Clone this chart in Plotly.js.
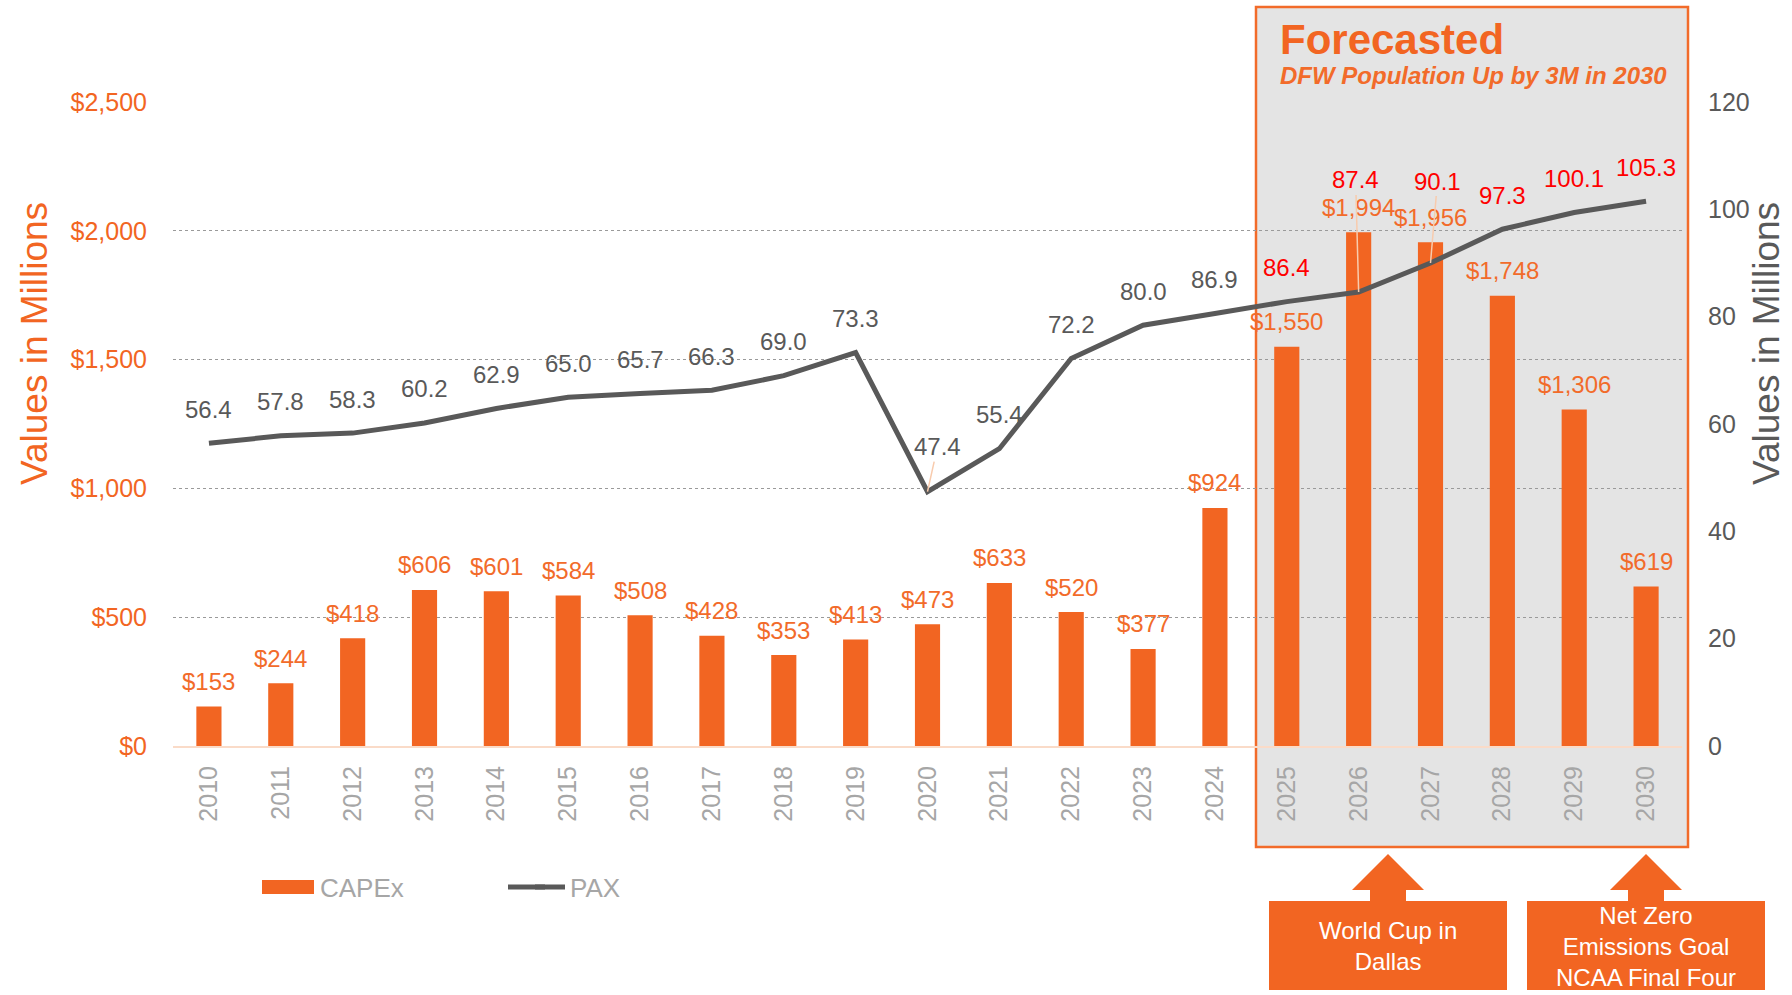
<!DOCTYPE html>
<html><head><meta charset="utf-8">
<script src="https://cdn.plot.ly/plotly-3.0.1.min.js"></script>
<style>html,body{margin:0;padding:0;background:#fff}#chart{width:1792px;height:995px}</style>
</head><body><div id="chart"></div>
<script>
// ---- data ----
const years = ['2010','2011','2012','2013','2014','2015','2016','2017','2018','2019','2020','2021','2022','2023','2024','2025','2026','2027','2028','2029','2030'];
const capex = [153,244,418,606,601,584,508,428,353,413,473,633,520,377,924,1550,1994,1956,1748,1306,619];
const paxLine = [56.4,57.8,58.3,60.2,62.9,65.0,65.7,66.3,69.0,73.3,47.4,55.4,72.2,78.4,80.6,82.8,84.6,90.0,96.3,99.4,101.5];
const paxLabels = ['56.4','57.8','58.3','60.2','62.9','65.0','65.7','66.3','69.0','73.3','47.4','55.4','72.2','80.0','86.9','86.4','87.4','90.1','97.3','100.1','105.3'];
const forecastYears = ['2025','2026','2027','2028','2029','2030'];
const leftTitle = 'Values in Millions';
const rightTitle = 'Values in Millions';
const forecastTitle = 'Forecasted';
const forecastSub = 'DFW Population Up by 3M in 2030';
const callout1 = 'World Cup in<br>Dallas';
const callout2 = 'Net Zero<br>Emissions Goal<br>NCAA Final Four';

// ---- styling ----
const FONT = 'Liberation Sans, Arial, sans-serif';
const ORANGE = '#F26522';
const ORANGE_TXT = '#F26B2A';
const GRAY = '#595959';
const LIGHTGRAY = '#A6A6A6';
const PL = 173, PR = 1682, PT = 102, PB = 746;
const px = x => (x - PL) / (PR - PL);
const py = y => (PB - y) / (PB - PT);

// label leader-line offsets (pixels) for a few labels
const leader = {'2020': [10, -45], '2026': [-3, -112], '2027': [7, -82]};

const annotations = [];
// CAPEx labels
years.forEach((yr, i) => {
  annotations.push({
    x: i, y: capex[i], xref: 'x', yref: 'y', showarrow: false, xanchor: 'center', yanchor: 'middle',
    text: '$' + capex[i].toLocaleString('en-US'), yshift: 25,
    font: {family: FONT, size: 24, color: ORANGE_TXT}
  });
});
// PAX labels
years.forEach((yr, i) => {
  const isF = forecastYears.includes(yr);
  const a = {
    x: i, y: paxLine[i], xref: 'x', yref: 'y2',
    text: paxLabels[i], xanchor: 'center', yanchor: 'middle',
    font: {family: FONT, size: 24, color: isF ? '#FF0000' : GRAY}
  };
  if (leader[yr]) {
    a.showarrow = true; a.arrowhead = 0; a.arrowwidth = 1.5; a.arrowcolor = '#F8CBAD';
    a.ax = leader[yr][0]; a.ay = leader[yr][1]; a.standoff = 0;
  } else {
    a.showarrow = false; a.yshift = 34;
  }
  annotations.push(a);
});
// axis titles
annotations.push({xref:'paper', yref:'paper', x: px(34), y: py(344), xanchor:'center', yanchor:'middle', showarrow:false,
  textangle:-90, text: leftTitle, font:{family:FONT, size:37, color:ORANGE}});
annotations.push({xref:'paper', yref:'paper', x: px(1766), y: py(344), xanchor:'center', yanchor:'middle', showarrow:false,
  textangle:-90, text: rightTitle, font:{family:FONT, size:37, color:GRAY}});
// forecast header
annotations.push({xref:'paper', yref:'paper', x: px(1278), y: py(39), xanchor:'left', yanchor:'middle', showarrow:false,
  text:'<b>'+forecastTitle+'</b>', font:{family:FONT, size:42, color:ORANGE}});
annotations.push({xref:'paper', yref:'paper', x: px(1278), y: py(75), xanchor:'left', yanchor:'middle', showarrow:false,
  text:'<b><i>'+forecastSub+'</i></b>', font:{family:FONT, size:24, color:ORANGE_TXT}});
// callout texts
annotations.push({xref:'paper', yref:'paper', x: px(1388), y: py(946), xanchor:'center', yanchor:'middle', showarrow:false,
  text: callout1, font:{family:FONT, size:24, color:'#FFFFFF'}});
annotations.push({xref:'paper', yref:'paper', x: px(1646), y: py(947), xanchor:'center', yanchor:'middle', showarrow:false,
  text: callout2, font:{family:FONT, size:24, color:'#FFFFFF'}});

function arrowPath(cx) {
  const pts = [[cx, 854],[cx+36, 890],[cx+18, 890],[cx+18, 902],[cx-18, 902],[cx-18, 890],[cx-36, 890]];
  return 'M' + pts.map(p => px(p[0]) + ',' + py(p[1])).join('L') + 'Z';
}

const shapes = [
  {type:'rect', xref:'paper', yref:'paper', x0: px(1256), x1: px(1688), y0: py(847), y1: py(7),
   fillcolor:'#E4E4E4', line:{color:'#F26B2A', width:2.5}, layer:'below'},
  {type:'path', xref:'paper', yref:'paper', path: arrowPath(1388), fillcolor: ORANGE, line:{width:0}},
  {type:'path', xref:'paper', yref:'paper', path: arrowPath(1646), fillcolor: ORANGE, line:{width:0}},
  {type:'rect', xref:'paper', yref:'paper', x0: px(1269), x1: px(1507), y0: py(990), y1: py(901),
   fillcolor: ORANGE, line:{width:0}},
  {type:'rect', xref:'paper', yref:'paper', x0: px(1527), x1: px(1765), y0: py(990), y1: py(901),
   fillcolor: ORANGE, line:{width:0}},
  // widen legend keys to match the reference swatches
  {type:'rect', xref:'paper', yref:'paper', x0: px(262), x1: px(314), y0: py(894), y1: py(880),
   fillcolor: ORANGE, line:{width:0}},
  {type:'line', xref:'paper', yref:'paper', x0: px(508), x1: px(545), y0: py(887), y1: py(887),
   line:{color: GRAY, width:5}}
];

const traces = [
  {type:'bar', name:'CAPEx', x: years, y: capex, marker:{color: ORANGE}, yaxis:'y', hoverinfo:'skip'},
  {type:'scatter', mode:'lines', name:'PAX', x: years, y: paxLine, yaxis:'y2',
   line:{color: GRAY, width: 5}, hoverinfo:'skip'}
];

const layout = {
  width: 1792, height: 995,
  margin: {l: PL, r: 1792 - PR, t: PT, b: 995 - PB},
  paper_bgcolor: '#FFFFFF', plot_bgcolor: 'rgba(0,0,0,0)',
  font: {family: FONT},
  bargap: 0.65,
  showlegend: true,
  legend: {orientation:'h', x: px(280), y: py(887), xanchor:'left', yanchor:'middle',
    font:{family:FONT, size:26, color: LIGHTGRAY}, entrywidth: 205, entrywidthmode:'pixels',
    bgcolor:'rgba(0,0,0,0)'},
  xaxis: {type:'category', range:[-0.5, years.length - 0.5], autorange:false, showgrid:false, tickangle:-90,
    ticks:'outside', ticklen:8, tickcolor:'rgba(0,0,0,0)',
    tickfont:{family:FONT, size:25, color: LIGHTGRAY}, showline:true, linecolor:'#FADBC8', linewidth:2,
    zeroline:false, fixedrange:true},
  yaxis: {range:[0,2500], autorange:false, dtick:500, tickprefix:'$', tickformat:',.0f', showgrid:true, gridcolor:'#9A9A9A',
    griddash:'dot', gridwidth:1, zeroline:false, ticks:'outside', ticklen:20, tickcolor:'rgba(0,0,0,0)',
    tickfont:{family:FONT, size:25, color: ORANGE}, fixedrange:true},
  yaxis2: {range:[0,120], autorange:false, dtick:20, overlaying:'y', side:'right', showgrid:false, zeroline:false,
    ticks:'outside', ticklen:20, tickcolor:'rgba(0,0,0,0)',
    tickfont:{family:FONT, size:25, color: GRAY}, fixedrange:true},
  shapes: shapes,
  annotations: annotations,
  hovermode: false
};

Plotly.newPlot('chart', traces, layout, {displayModeBar:false, staticPlot:true});
</script>
</body></html>
